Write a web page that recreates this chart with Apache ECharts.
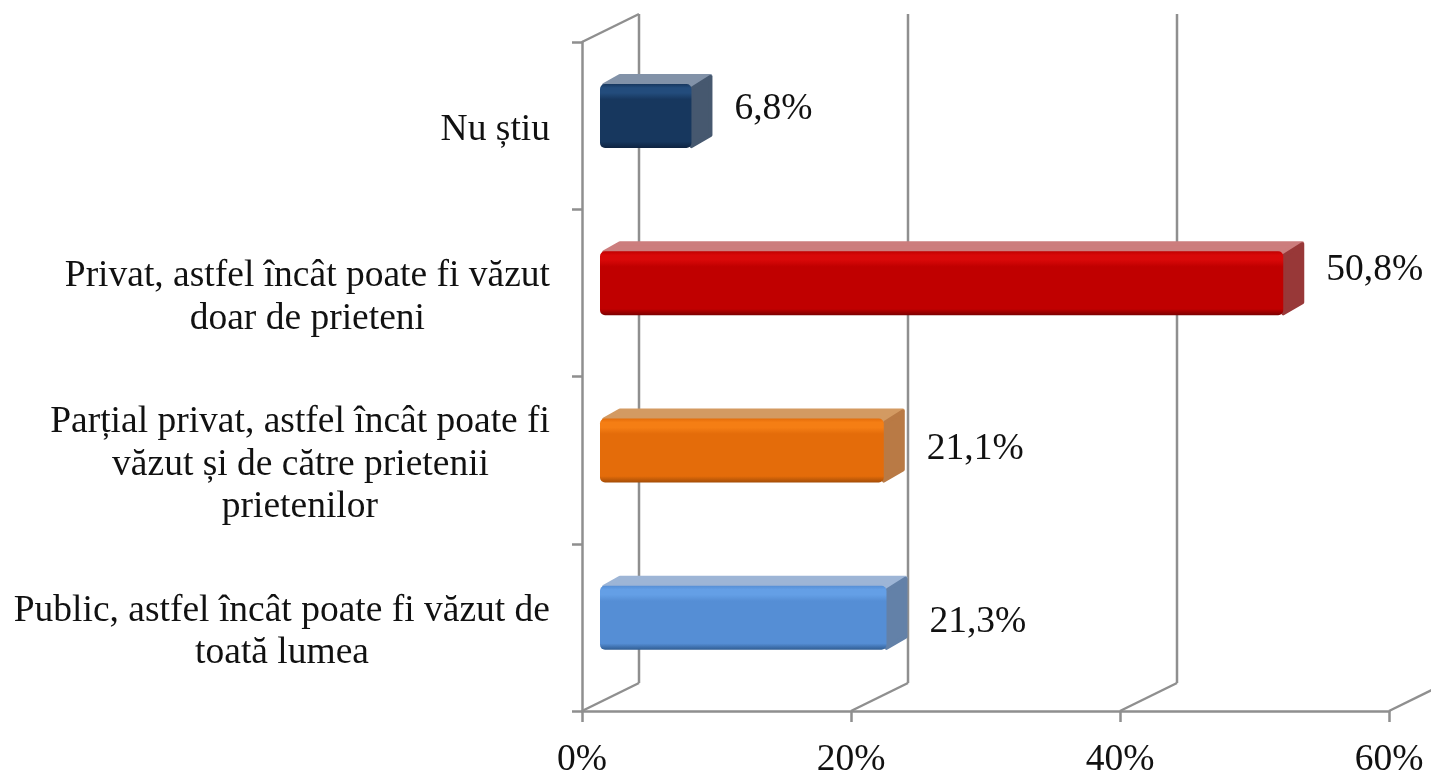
<!DOCTYPE html>
<html>
<head>
<meta charset="utf-8">
<style>
  html, body { margin: 0; padding: 0; background: #fff; }
  #chart { width: 1431px; height: 772px; }
</style>
<script src="https://cdn.jsdelivr.net/npm/echarts@6/dist/echarts.min.js"></script>
</head>
<body>
<div id="chart"></div>
<script>
// categorii, de jos in sus
const categories = [
  'Public, astfel încât poate fi văzut de\ntoată lumea',
  'Parțial privat, astfel încât poate fi\nvăzut și de către prietenii\nprietenilor',
  'Privat, astfel încât poate fi văzut\ndoar de prieteni',
  'Nu știu'
]
const values = [21.3, 21.1, 50.8, 6.8]
const xTicks = [0, 20, 40, 60]

const fontFamily = '"Liberation Serif", serif'
const fontSize = 37.5
const textColor = '#111'
const axisColor = '#8f8f8f'
const axisWidth = 2.5
const depthX = 22 // adancimea barei
const depthY = 10
const wallX = 57 // adancimea peretelui din spate
const wallY = 28

const barColors = [
  { front: '#558ed5', light: '#649fe6', dark: '#2f5c92', top: '#9db5d6', side: '#6381a8' },
  { front: '#e46c0a', light: '#f57e14', dark: '#a34c06', top: '#d39a62', side: '#b97a45' },
  { front: '#c00000', light: '#d80808', dark: '#7a0000', top: '#cc7d7d', side: '#983838' },
  { front: '#17375e', light: '#234c7c', dark: '#0e2340', top: '#8292a8', side: '#46586f' }
]
const labelShift = [4, -1, -13, -7]

// centreaza liniile unei etichete aliniate la dreapta
const measure = document.createElement('canvas').getContext('2d')
measure.font = fontSize + 'px ' + fontFamily
function centeredLabel(text) {
  const lines = text.split('\n')
  const widths = lines.map(l => measure.measureText(l).width)
  const max = Math.max(...widths)
  return lines.map((l, i) => '{l' + Math.round((max - widths[i]) / 2) + '|' + l + '}').join('\n')
}
const rich = {}
categories.forEach(c => {
  const lines = c.split('\n')
  const widths = lines.map(l => measure.measureText(l).width)
  const max = Math.max(...widths)
  widths.forEach(w => {
    const pad = Math.round((max - w) / 2)
    rich['l' + pad] = { padding: [0, pad, 0, 0], fontFamily, fontSize, color: textColor, lineHeight: 42.5 }
  })
})

function renderWall(params, api) {
  const band = api.size([0, 1])[1]
  const tick = api.value(0)
  const bottom = api.coord([tick, 0])
  const top = api.coord([tick, categories.length - 1])
  const yBottom = bottom[1] + band / 2
  const yTop = top[1] - band / 2
  const x = bottom[0]
  const lineStyle = { stroke: axisColor, lineWidth: axisWidth, fill: null }
  const children = [{
    type: 'line',
    shape: { x1: x, y1: yBottom, x2: x + wallX, y2: yBottom - wallY },
    style: lineStyle
  }]
  // la 60% peretele iese din imagine
  if (tick < 60) {
    children.push({
      type: 'line',
      shape: { x1: x + wallX, y1: yBottom - wallY, x2: x + wallX, y2: yTop - wallY },
      style: lineStyle
    })
  }
  if (tick === 0) {
    children.push({
      type: 'line',
      shape: { x1: x, y1: yTop, x2: x + wallX, y2: yTop - wallY },
      style: lineStyle
    })
  }
  return { type: 'group', children }
}

function renderBar(params, api) {
  const i = api.value(1)
  const c = barColors[i]
  const start = api.coord([0, i])
  const end = api.coord([api.value(0), i])
  const h = api.size([0, 1])[1] * 0.383
  const x0 = start[0] + 18
  const x1 = end[0] + 18
  const y0 = start[1] - 9.6 - h / 2
  const y1 = y0 + h
  const round = (fill, points) => ({
    type: 'polygon',
    shape: { points },
    style: { fill, stroke: fill, lineWidth: 4, lineJoin: 'round' }
  })
  return {
    type: 'group',
    children: [
      round(c.top, [[x0 + 4, y0 + 1], [x0 + depthX - 2, y0 - depthY + 2], [x1 + depthX - 3, y0 - depthY + 2], [x1, y0 + 1]]),
      round(c.side, [[x1, y0 + 5], [x1 + depthX - 3, y0 - depthY + 3], [x1 + depthX - 3, y1 - depthY - 3], [x1, y1 - 2]]),
      {
        type: 'rect',
        shape: { x: x0, y: y0, width: x1 - x0, height: h, r: 5 },
        style: {
          fill: {
            type: 'linear', x: 0, y: 0, x2: 0, y2: 1,
            colorStops: [
              { offset: 0, color: c.front },
              { offset: 0.06, color: c.light },
              { offset: 0.14, color: c.light },
              { offset: 0.24, color: c.front },
              { offset: 0.9, color: c.front },
              { offset: 1, color: c.dark }
            ]
          }
        }
      },
      {
        type: 'text',
        style: {
          x: x1 + 43,
          y: (y0 + y1) / 2 + labelShift[i],
          text: String(api.value(0)).replace('.', ',') + '%',
          fontFamily,
          fontSize,
          fill: textColor,
          textAlign: 'left',
          textVerticalAlign: 'middle'
        }
      }
    ]
  }
}

const chart = echarts.init(document.getElementById('chart'))
chart.setOption({
  backgroundColor: '#fff',
  animation: false,
  grid: { left: 582, right: 42, top: 42, bottom: 61, outerBoundsMode: 'none' },
  xAxis: {
    type: 'value',
    min: 0,
    max: 60,
    interval: 20,
    splitLine: { show: false },
    axisLine: { show: true, lineStyle: { color: axisColor, width: axisWidth } },
    axisTick: { show: true, length: 11, lineStyle: { color: axisColor, width: axisWidth } },
    axisLabel: {
      formatter: '{value}%',
      fontFamily,
      fontSize,
      color: textColor,
      margin: 30
    }
  },
  yAxis: {
    type: 'category',
    data: categories,
    axisLine: { show: true, lineStyle: { color: axisColor, width: axisWidth } },
    axisTick: { show: true, length: 10, alignWithLabel: false, lineStyle: { color: axisColor, width: axisWidth } },
    axisLabel: {
      interval: 0,
      margin: 32,
      align: 'right',
      padding: [10, 0, 0, 0],
      formatter: centeredLabel,
      rich
    }
  },
  series: [
    {
      type: 'custom',
      clip: false,
      silent: true,
      renderItem: renderWall,
      encode: { x: 0 },
      data: xTicks.map(t => [t]),
      z: 1
    },
    {
      type: 'custom',
      clip: false,
      silent: true,
      renderItem: renderBar,
      encode: { x: 0, y: 1 },
      data: values.map((v, i) => [v, i]),
      z: 2
    }
  ]
})
</script>
</body>
</html>
